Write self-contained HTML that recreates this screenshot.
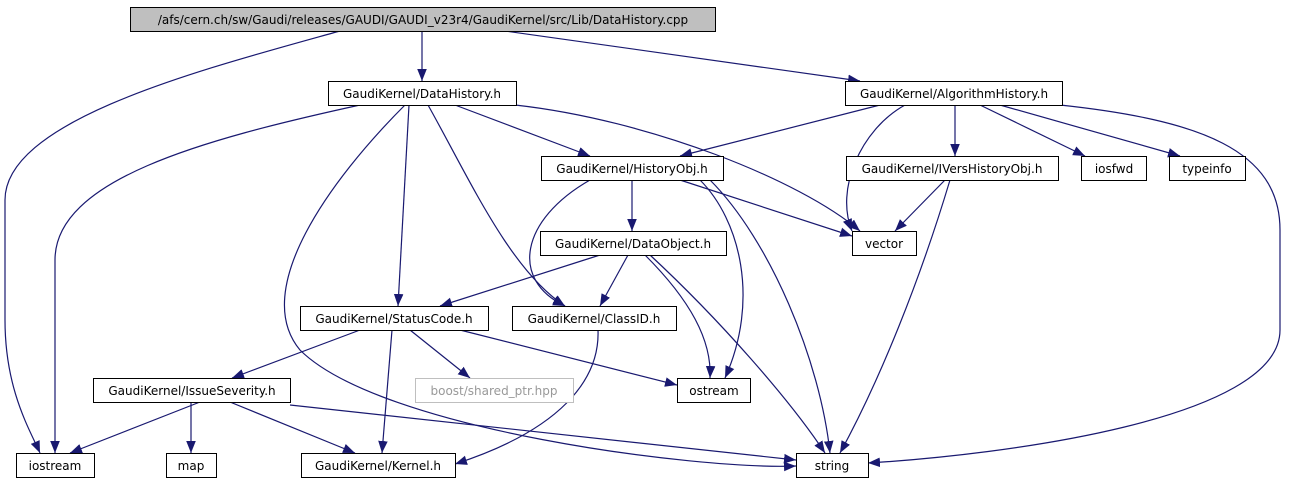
<!DOCTYPE html>
<html><head><meta charset="utf-8"><style>
html,body{margin:0;padding:0;background:#fff;width:1289px;height:485px;overflow:hidden}
text{font-family:"DejaVu Sans","Liberation Sans",sans-serif;font-size:12px;text-anchor:middle}
</style></head><body>
<svg width="1289" height="485" viewBox="0 0 1289 485" xmlns="http://www.w3.org/2000/svg">
<defs><marker id="a" viewBox="0 0 10 10" refX="10" refY="5" markerWidth="12" markerHeight="12" markerUnits="userSpaceOnUse" orient="auto"><path d="M0,1 L10,5 L0,9 z" fill="#191970"/></marker></defs>
<g fill="none" stroke="#191970" stroke-width="1.2" marker-end="url(#a)">
<path d="M422,31 L422,81"/>
<path d="M505,31 L860,81"/>
<path d="M340,31 C200,70 5,120 5,200 L5,320 C5,390 30,430 40,453"/>
<path d="M455,105 L590,156"/>
<path d="M515,105 C650,120 800,180 860,231"/>
<path d="M360,105 C200,140 55,180 55,260 L55,453"/>
<path d="M409,105 L398,306"/>
<path d="M428,105 C470,180 510,270 565,306"/>
<path d="M405,105 C330,180 250,290 300,350 C380,430 700,470 796,466"/>
<path d="M880,105 L680,156"/>
<path d="M905,105 C860,130 835,190 852,231"/>
<path d="M955,105 L955,156"/>
<path d="M980,105 L1085,156"/>
<path d="M1000,105 L1180,156"/>
<path d="M1060,105 C1200,120 1280,150 1280,230 L1280,330 C1280,420 1000,455 868,463"/>
<path d="M632,180 L632,231"/>
<path d="M680,180 L852,236"/>
<path d="M590,180 C520,220 510,280 565,306"/>
<path d="M700,180 C740,220 760,300 725,378"/>
<path d="M710,180 C770,240 820,360 830,453"/>
<path d="M945,180 L895,231"/>
<path d="M950,180 C920,280 880,380 840,453"/>
<path d="M600,255 L440,306"/>
<path d="M628,255 L600,306"/>
<path d="M645,255 C690,300 712,340 710,378"/>
<path d="M650,255 C720,320 790,400 825,453"/>
<path d="M360,330 L232,378"/>
<path d="M392,330 L382,453"/>
<path d="M410,330 L470,378"/>
<path d="M460,330 L677,385"/>
<path d="M598,330 C600,380 560,430 455,464"/>
<path d="M200,402 L70,453"/>
<path d="M191,402 L191,453"/>
<path d="M230,402 L355,453"/>
<path d="M290,405 L796,460"/>
</g>
<g stroke="#000" stroke-width="1" fill="#fff">
<rect x="130.5" y="7.5" width="585" height="24" fill="#bfbfbf"/>
<rect x="328.5" y="81.5" width="188" height="24"/>
<rect x="845.5" y="81.5" width="217" height="24"/>
<rect x="541.5" y="156.5" width="182" height="24"/>
<rect x="846.5" y="156.5" width="212" height="24"/>
<rect x="1081.5" y="156.5" width="65" height="24"/>
<rect x="1169.5" y="156.5" width="76" height="24"/>
<rect x="540.5" y="231.5" width="186" height="24"/>
<rect x="852.5" y="231.5" width="64" height="24"/>
<rect x="300.5" y="306.5" width="188" height="24"/>
<rect x="512.5" y="306.5" width="164" height="24"/>
<rect x="93.5" y="378.5" width="197" height="24"/>
<rect x="415.5" y="378.5" width="158" height="24" stroke="#bfbfbf"/>
<rect x="677.5" y="378.5" width="73" height="24"/>
<rect x="16.5" y="453.5" width="78" height="24"/>
<rect x="166.5" y="453.5" width="50" height="24"/>
<rect x="301.5" y="453.5" width="154" height="24"/>
<rect x="796.5" y="453.5" width="72" height="24"/>
</g>
<g fill="#000">
<text x="423" y="24">/afs/cern.ch/sw/Gaudi/releases/GAUDI/GAUDI_v23r4/GaudiKernel/src/Lib/DataHistory.cpp</text>
<text x="422" y="98">GaudiKernel/DataHistory.h</text>
<text x="954" y="98">GaudiKernel/AlgorithmHistory.h</text>
<text x="632" y="173">GaudiKernel/HistoryObj.h</text>
<text x="952" y="173">GaudiKernel/IVersHistoryObj.h</text>
<text x="1114" y="173">iosfwd</text>
<text x="1207" y="173">typeinfo</text>
<text x="633" y="248">GaudiKernel/DataObject.h</text>
<text x="884" y="248">vector</text>
<text x="394" y="323">GaudiKernel/StatusCode.h</text>
<text x="594" y="323">GaudiKernel/ClassID.h</text>
<text x="192" y="395">GaudiKernel/IssueSeverity.h</text>
<text x="494" y="395" fill="#999">boost/shared_ptr.hpp</text>
<text x="714" y="395">ostream</text>
<text x="55" y="470">iostream</text>
<text x="191" y="470">map</text>
<text x="378" y="470">GaudiKernel/Kernel.h</text>
<text x="832" y="470">string</text>
</g>
</svg>
</body></html>
